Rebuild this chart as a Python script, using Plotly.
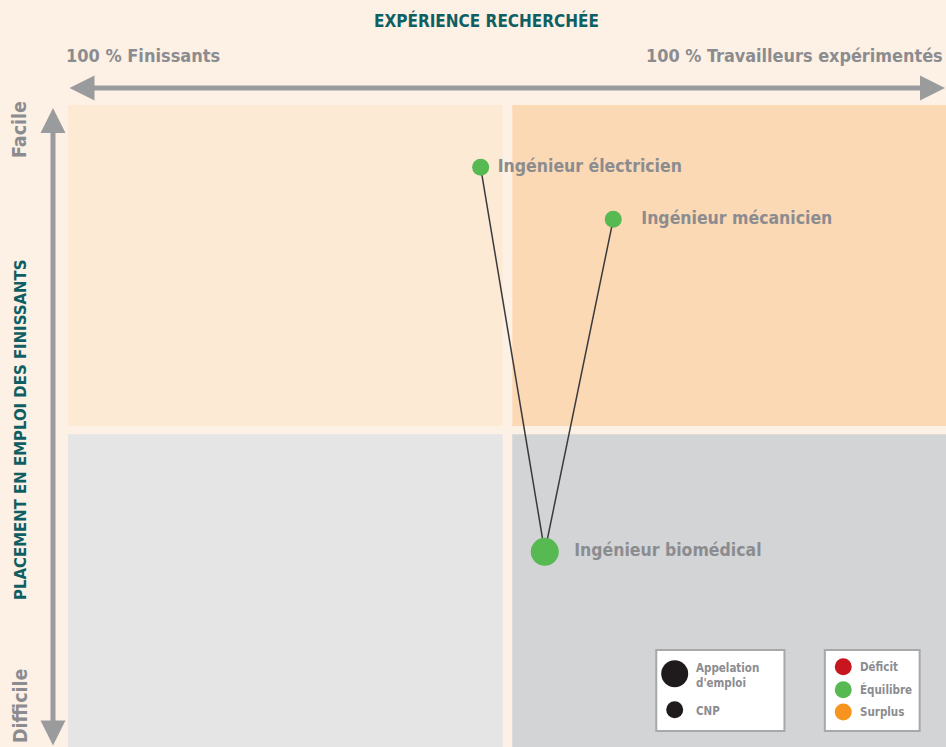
#!/usr/bin/env python3
# -*- coding: utf-8 -*-

'''
graphique : expérience recherchée vs placement en emploi des finissants
'''

import plotly.graph_objects as go

# données (x : % travailleurs expérimentés, y : facilité de placement)
appellations = ["Ingénieur électricien", "Ingénieur mécanicien"]
appellations_x = [47.0, 62.1]
appellations_y = [90.3, 82.2]

cnp_nom = "Ingénieur biomédical"
cnp_x = 54.3
cnp_y = 30.4

# légende
legende_taille = ["Appelation<br>d'emploi", "CNP"]
legende_statut = ["Déficit", "Équilibre", "Surplus"]
couleurs_statut = ["#C8161E", "#57B952", "#F7941D"]

police = "DejaVu Sans Condensed, Liberation Sans Narrow, sans-serif"
gris_txt = "#8B8C90"
sarcelle = "#0E5F63"
vert = "#57B952"
noir = "#1F1B1C"


def fnt(size, color):
    return dict(family=police, size=size, color=color, weight="bold")


fig = go.Figure()

# quadrants
quadrants = [
    (0, 49.5, 50.0, 100, "#FDEAD5"),
    (50.6, 100, 50.0, 100, "#FCD9B5"),
    (0, 49.5, 0, 48.7, "#E5E5E6"),
    (50.6, 100, 0, 48.7, "#D3D4D6"),
]
for x0, x1, y0, y1, c in quadrants:
    fig.add_shape(type="rect", x0=x0, x1=x1, y0=y0, y1=y1, xref="x", yref="y",
                  fillcolor=c, line_width=0, layer="below")

# boîtes de légende
for x0, x1 in [(67.0, 81.6), (86.2, 97.0)]:
    fig.add_shape(type="rect", x0=x0, x1=x1, y0=2.5, y1=15.1, fillcolor="white",
                  line=dict(color="#A7A8AA", width=2), layer="below")

# liens CNP -> appellations
for ax, ay in zip(appellations_x, appellations_y):
    fig.add_trace(go.Scatter(x=[cnp_x, ax], y=[cnp_y, ay], mode="lines",
                             line=dict(color="#3A3A3C", width=1.5),
                             hoverinfo="skip", showlegend=False))

fig.add_trace(go.Scatter(x=appellations_x, y=appellations_y, mode="markers+text",
                         marker=dict(size=17, color=vert),
                         text=[p + t for p, t in zip([" ", "   "], appellations)],
                         textposition="middle right",
                         textfont=fnt(17.5, gris_txt), showlegend=False))
fig.add_trace(go.Scatter(x=[cnp_x], y=[cnp_y], mode="markers+text",
                         marker=dict(size=28, color=vert),
                         text=["  " + cnp_nom], textposition="middle right",
                         textfont=fnt(17.5, gris_txt), showlegend=False))

# pastilles de légende
fig.add_trace(go.Scatter(x=[69.1], y=[11.4], mode="markers",
                         marker=dict(size=27, color=noir, opacity=1, line_width=0),
                         opacity=1, hoverinfo="skip", showlegend=False))
fig.add_trace(go.Scatter(x=[69.1], y=[5.8], mode="markers",
                         marker=dict(size=17, color=noir, opacity=1, line_width=0),
                         opacity=1, hoverinfo="skip", showlegend=False))
fig.add_trace(go.Scatter(x=[88.3] * 3, y=[12.5, 8.9, 5.45], mode="markers",
                         marker=dict(size=17, color=couleurs_statut),
                         hoverinfo="skip", showlegend=False))

for t, yy in zip(legende_taille, [11.2, 5.6]):
    fig.add_annotation(x=71.3, y=yy, text=t, showarrow=False, xanchor="left",
                       yanchor="middle", align="left", font=fnt(11.5, gris_txt))
for t, yy in zip(legende_statut, [12.5, 8.9, 5.45]):
    fig.add_annotation(x=90.0, y=yy, text=t, showarrow=False, xanchor="left",
                       yanchor="middle", font=fnt(11.5, gris_txt))

# flèches des axes
fleche = dict(showarrow=True, arrowcolor="#9A9B9D", arrowwidth=5, arrowhead=2,
              arrowsize=1, arrowside="end+start", text="", xref="paper", yref="paper",
              standoff=0, startstandoff=0)
fig.add_annotation(x=1.0, y=1.0 + 17 / 642, ax=-878, ay=0, **fleche)
fig.add_annotation(x=-15 / 878, y=1.0 - 3 / 642, ax=0, ay=639, **fleche)

# titres
def texte(px, py, t, f, xa="center", angle=0):
    fig.add_annotation(x=(px - 68) / 878, y=(747 - py) / 642, xref="paper", yref="paper",
                       text=t, showarrow=False, xanchor=xa, yanchor="middle",
                       textangle=angle, font=f)


texte(486, 20, "EXPÉRIENCE RECHERCHÉE", fnt(17, sarcelle))
texte(64, 55, "100 % Finissants", fnt(18, gris_txt), xa="left")
texte(945, 55, "100 % Travailleurs expérimentés", fnt(17.9, gris_txt), xa="right")
texte(20, 430, "PLACEMENT EN EMPLOI DES FINISSANTS", fnt(16.6, sarcelle), angle=-90)
texte(20, 130, "Facile", fnt(19.5, gris_txt), angle=-90)
texte(20, 706, "Difficile", fnt(19.5, gris_txt), angle=-90)

fig.update_xaxes(range=[0, 100], visible=False, fixedrange=True)
fig.update_yaxes(range=[0, 100], visible=False, fixedrange=True)
fig.update_layout(width=946, height=747, margin=dict(l=68, r=0, t=105, b=0),
                  paper_bgcolor="#FDF0E4", plot_bgcolor="#FDF0E4",
                  showlegend=False, hovermode=False)

fig.write_html("out.html", config={"displayModeBar": False},
               post_script="document.body.style.margin='0';")
